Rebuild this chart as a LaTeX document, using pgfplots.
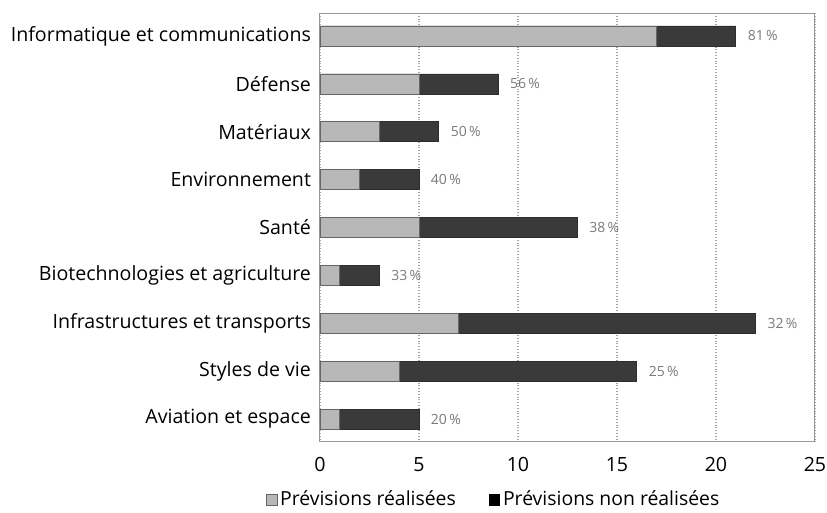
\documentclass[border=0pt]{standalone}
\usepackage{pgfplots}
\pgfplotsset{compat=1.18}
\usepackage{fontspec}
\setmainfont{Open Sans}
\definecolor{lightbar}{HTML}{B8B8B8}
\definecolor{darkbar}{HTML}{3A3A3A}
\definecolor{labgray}{HTML}{7A7A7A}
\begin{document}
\begin{tikzpicture}
\useasboundingbox (-160pt,-256.5pt) rectangle (253.5pt,0pt);
\begin{axis}[
  at={(0pt,-6.5pt)}, anchor=north west,
  width=247.5pt, height=214.5pt, scale only axis,
  xbar, bar shift=0pt,
  bar width=10pt,
  xmin=0, xmax=25,
  ymin=-0.48, ymax=8.48,
  y dir=reverse,
  ytick={0,...,8},
  yticklabels={Informatique et communications,Défense,Matériaux,Environnement,Santé,Biotechnologies et agriculture,Infrastructures et transports,Styles de vie,Aviation et espace},
  xtick={0,5,10,15,20,25},
  major tick length=0pt,
  tick label style={font=\fontsize{9.8}{11}\selectfont, text=black},
  /pgf/number format/assume math mode=true,
  xmajorgrids, grid style={gray!70, densely dotted, line width=0.6pt},
  axis line style={gray!80, line width=0.5pt},
  xticklabel style={yshift=-4pt},
  yticklabel style={xshift=-1pt},
  legend style={draw=none, fill=none, at={(0.352,-0.135)}, anchor=center, legend columns=2, font=\fontsize{9.7}{11}\selectfont, /tikz/every even column/.append style={column sep=15pt}, nodes={inner xsep=1.5pt}},
  legend image code/.code={\draw[#1] (0pt,-2.6pt) rectangle (5.2pt,2.6pt);},
  legend cell align=left,
  nodes near coords style={font=\fontsize{7}{8}\selectfont, text=labgray, anchor=west, xshift=2.5pt},
]
\addplot[fill=darkbar, draw=darkbar!80!black, line width=0.3pt,
  nodes near coords, point meta=explicit symbolic, forget plot] coordinates {
(21,0) [81\,\%] (9,1) [56\,\%] (6,2) [50\,\%] (5,3) [40\,\%] (13,4) [38\,\%] (3,5) [33\,\%] (22,6) [32\,\%] (16,7) [25\,\%] (5,8) [20\,\%]};
\addplot[fill=lightbar, draw=gray!80!black, line width=0.3pt] coordinates {
(17,0) (5,1) (3,2) (2,3) (5,4) (1,5) (7,6) (4,7) (1,8)};
\addlegendentry{Prévisions réalisées}
\addlegendimage{fill=black, draw=black}
\addlegendentry{Prévisions non réalisées}
\end{axis}
\end{tikzpicture}
\end{document}
